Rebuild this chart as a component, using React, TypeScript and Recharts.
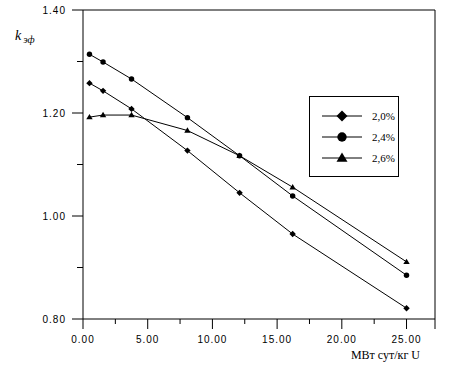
import React from 'react';
import { LineChart, Line, XAxis, YAxis, ReferenceLine } from 'recharts';

const burnup = [0.5, 1.55, 3.75, 8.07, 12.1, 16.2, 25];
const enr20 = [1.258, 1.243, 1.208, 1.127, 1.045, 0.965, 0.821];
const enr24 = [1.314, 1.299, 1.266, 1.191, 1.117, 1.039, 0.885];
const enr26 = [1.192, 1.196, 1.196, 1.166, 1.117, 1.056, 0.911];

const xTicks = [0, 2.5, 5, 7.5, 10, 12.5, 15, 17.5, 20, 22.5, 25, 27.2];
const yTicks = [0.8, 0.9, 1.0, 1.1, 1.2, 1.3, 1.4];
const X_MAX = 27.2;

type Shape = 'diamond' | 'circle' | 'triangle';

const seriesList: { name: string; values: number[]; shape: Shape }[] = [
    { name: '2,0%', values: enr20, shape: 'diamond' },
    { name: '2,4%', values: enr24, shape: 'circle' },
    { name: '2,6%', values: enr26, shape: 'triangle' },
];

const toData = (values: number[]) => burnup.map((x, i) => ({ x, y: values[i] }));

const Marker = ({ shape, cx, cy, r }: { shape: Shape; cx: number; cy: number; r: number }) => {
    if (shape === 'circle') return <circle cx={cx} cy={cy} r={r * 0.85} fill="#000" />;
    if (shape === 'diamond')
        return <polygon points={`${cx},${cy - r} ${cx + r},${cy} ${cx},${cy + r} ${cx - r},${cy}`} fill="#000" />;
    return <polygon points={`${cx},${cy - r} ${cx + r},${cy + r * 0.7} ${cx - r},${cy + r * 0.7}`} fill="#000" />;
};

const tickFont = { fontFamily: '"Liberation Sans", Arial, sans-serif', fontSize: 10, letterSpacing: 1 };
const serif = '"Liberation Serif", "Times New Roman", serif';

const XTick = (props: any) => {
    const { x, y, payload } = props;
    const v = payload.value;
    const labeled = Math.abs(v % 5) < 1e-6;
    const major = labeled || v === X_MAX;
    return (
        <g>
            <line x1={x} y1={y} x2={x} y2={y + (major ? 10 : 5)} stroke="#000" />
            {labeled && (
                <text x={x} y={y + 24} textAnchor="middle" fill="#000" style={tickFont}>
                    {v.toFixed(2)}
                </text>
            )}
        </g>
    );
};

const YTick = (props: any) => {
    const { x, y, payload } = props;
    const v = payload.value;
    const major = Math.round(v * 10) % 2 === 0;
    return (
        <g>
            <line x1={x - (major ? 11 : 6)} y1={y} x2={x} y2={y} stroke="#000" />
            {major && (
                <text x={x - 17} y={y + 4} textAnchor="end" fill="#000" style={tickFont}>
                    {v.toFixed(2)}
                </text>
            )}
        </g>
    );
};

const LegendBox = () => (
    <div
        style={{
            position: 'absolute',
            left: 309,
            top: 96,
            width: 88,
            height: 79,
            border: '1px solid #000',
            background: '#fff',
        }}
    >
        {seriesList.map((s, i) => (
            <div key={s.name} style={{ position: 'absolute', left: 12, top: 12 + i * 21, height: 14, display: 'flex', alignItems: 'center' }}>
                <svg width={40} height={14} style={{ display: 'block' }}>
                    <line x1={0} y1={7} x2={40} y2={7} stroke="#000" />
                    <Marker shape={s.shape} cx={20} cy={7} r={5.5} />
                </svg>
                <span style={{ marginLeft: 10, fontFamily: serif, fontSize: 11, color: '#000', lineHeight: '14px' }}>
                    {s.name}
                </span>
            </div>
        ))}
    </div>
);

export default function App() {
    return (
        <div style={{ position: 'absolute', left: 0, top: 0, width: 449, height: 367, background: '#fff' }}>
            <LineChart width={449} height={367} margin={{ top: 10, right: 14, bottom: 0, left: 0 }}>
                <XAxis
                    type="number"
                    dataKey="x"
                    domain={[0, X_MAX]}
                    ticks={xTicks}
                    interval={0}
                    height={48}
                    tickSize={0}
                    tickMargin={0}
                    tickLine={false}
                    axisLine={{ stroke: '#000' }}
                    tick={<XTick />}
                    label={{
                        content: (p: any) => (
                            <text
                                x={p.viewBox.x + p.viewBox.width - 15}
                                y={p.viewBox.y + 40}
                                textAnchor="end"
                                fill="#000"
                                style={{ fontFamily: serif, fontSize: 12 }}
                            >
                                МВт сут/кг U
                            </text>
                        ),
                    }}
                />
                <YAxis
                    type="number"
                    domain={[0.8, 1.4]}
                    ticks={yTicks}
                    interval={0}
                    width={83}
                    tickSize={0}
                    tickMargin={0}
                    tickLine={false}
                    axisLine={{ stroke: '#000' }}
                    tick={<YTick />}
                    label={{
                        content: () => (
                            <text x={15} y={40} fill="#000" style={{ fontFamily: serif, fontStyle: 'italic' }}>
                                <tspan fontSize={14}>k</tspan>
                                <tspan fontSize={10} dx={2} dy={3}>эф</tspan>
                            </text>
                        ),
                    }}
                />
                <ReferenceLine y={1.4} stroke="#000" />
                <ReferenceLine x={X_MAX} stroke="#000" />
                {seriesList.map((s) => (
                    <Line
                        key={s.name}
                        name={s.name}
                        data={toData(s.values)}
                        dataKey="y"
                        type="linear"
                        stroke="#000"
                        strokeWidth={1}
                        isAnimationActive={false}
                        dot={(p: any) => (
                            <g key={`${s.name}-${p.index}`}>
                                <Marker shape={s.shape} cx={p.cx} cy={p.cy} r={3.2} />
                            </g>
                        )}
                        activeDot={false}
                    />
                ))}
            </LineChart>
            <LegendBox />
        </div>
    );
}
